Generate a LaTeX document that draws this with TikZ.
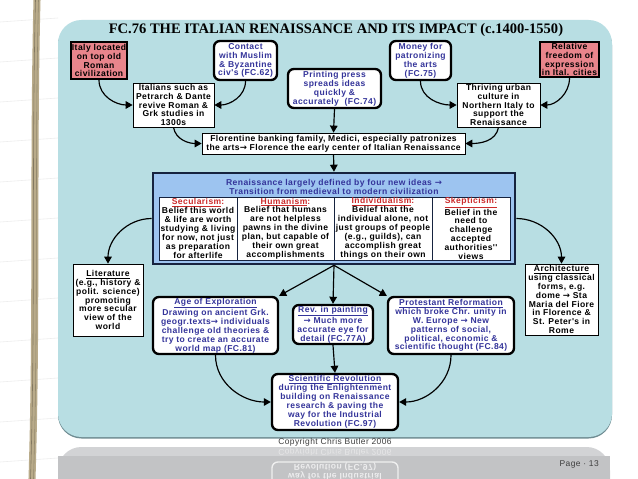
\documentclass[tikz,border=0pt]{standalone}
\usepackage{fontspec}
\setmainfont{Liberation Sans}
\newfontfamily\diafont{Liberation Sans}[LetterSpace=5]
\newfontfamily\titlefont{Liberation Serif}
\newfontfamily\symfont{DejaVu Sans}
\usetikzlibrary{arrows.meta, positioning, calc}
\definecolor{panel}{HTML}{B8DEE3}
\definecolor{panelshade}{HTML}{6F8C92}
\definecolor{origin}{HTML}{E9858C}
\definecolor{navytext}{HTML}{34349A}
\definecolor{ideasfill}{HTML}{9DC4F0}
\definecolor{ideasrule}{HTML}{16233F}
\definecolor{ideared}{HTML}{CC2B2B}
\definecolor{band}{HTML}{C2C3C5}
\definecolor{bandtop}{HTML}{D2D3D5}
\definecolor{binding}{HTML}{B9AB8A}
\definecolor{pagegrey}{HTML}{3F3F3F}
\newcommand{\rarr}{{\symfont\bfseries →}}
\tikzset{
  >={Triangle[length=6pt, width=6.5pt]},
  sz/.style 2 args={minimum width=#1*0.03cm, minimum height=#2*0.03cm},
  %
  base/.style={inner sep=0pt, align=center, text=black,
    font=\diafont\bfseries\fontsize{7.3}{7.6}\selectfont},
  plainbox/.style={base, draw=black, line width=0.6pt, fill=white},
  linkbox/.style={base, draw=black, line width=2pt, fill=white,
    rounded corners=5pt, text=navytext},
  originbox/.style={base, draw=black, line width=1.8pt, fill=origin},
  ideacell/.style={plainbox, draw=ideasrule, line width=0.5pt},
  celltitle/.style={text=ideared},
  %
  flow/.style={->, draw=black, line width=1pt},
  smallprint/.style={inner sep=0pt, text=pagegrey,
    font=\diafont\fontsize{7.2}{8}\selectfont},
}
\begin{document}
\begin{tikzpicture}[x=0.03cm, y=0.03cm]
  \useasboundingbox (0,0) rectangle (638,-479);
  \fill[white] (0,0) rectangle (638,-479);

  % --- notebook page and binding -----------------------------------------
  \foreach \y in {18,58,98,138,178,218,258,298,338,378,418,458}
    \draw[gray!14, line width=0.5pt] (0,-\y-4) -- (58,-\y);
  \draw[binding, line width=6pt] (37,0) .. controls (33,-160) and (37,-320) .. (32,-479);
  \draw[binding!70!black, line width=0.5pt] (35.5,0) .. controls (31.5,-160) and (35.5,-320) .. (30.5,-479);
  \draw[binding!80!black, line width=0.5pt] (38.5,0) .. controls (34.5,-160) and (38.5,-320) .. (33.5,-479);

  % --- panel --------------------------------------------------------------
  \fill[panelshade, rounded corners=20] (58,-21.5) rectangle (612,-438.5);
  \fill[panel, rounded corners=20] (58,-20) rectangle (612,-437);
  \node[anchor=center, inner sep=0pt, font=\titlefont\bfseries\fontsize{12.4}{14}\selectfont]
    (title) at (336,-30) {FC.76 THE ITALIAN RENAISSANCE AND ITS IMPACT (c.1400-1550)};

  % --- causes -------------------------------------------------------------
  \node[originbox, sz={56}{37}] (italy) at (99,-60.5)
    {Italy located\\on top old\\Roman\\civilization};
  \node[linkbox, sz={63}{39}] (contact) at (245.5,-60.5)
    {Contact\\with Muslim\\\& Byzantine\\civ's (FC.62)};
  \node[plainbox, sz={81}{44}] (italians) at (173.5,-105)
    {Italians such as\\Petrarch \& Dante\\revive Roman \&\\Grk studies in\\1300s};
  \node[linkbox, sz={93}{39}] (printing) at (334.5,-88.5)
    {Printing press\\spreads ideas\\quickly \&\\accurately\ \ (FC.74)};
  \node[linkbox, sz={61}{39}] (money) at (420.5,-60.5)
    {Money for\\patronizing\\the arts\\(FC.75)};
  \node[originbox, sz={59}{35}] (freedom) at (569.5,-59.5)
    {Relative\\freedom of\\expression\\in Ital. cities};
  \node[plainbox, sz={83}{44}] (thriving) at (498.5,-105)
    {Thriving urban\\culture in\\Northern Italy to\\support the\\Renaissance};
  \node[plainbox, sz={263}{21}] (medici) at (333.5,-143.5)
    {Florentine banking family, Medici, especially patronizes\\
     the arts\rarr{} Florence the early center of Italian Renaissance};

  \draw[flow] (italy.south) to[out=-90, in=180] (italians.west);
  \draw[flow] (contact.south) to[out=-90, in=0] (italians.east);
  \draw[flow] (money.south) to[out=-90, in=180] (thriving.west);
  \draw[flow] (freedom.south) to[out=-90, in=0] (thriving.east);
  \draw[flow] (italians.south) to[out=-80, in=180] (medici.west);
  \draw[flow] (thriving.south) to[out=-100, in=0] (medici.east);
  \draw[flow] (printing.south) -- (medici.north);

  % --- four new ideas -----------------------------------------------------
  \node[base, draw=ideasrule, line width=2.2pt, fill=ideasfill, sz={362}{91}]
    (ideas) at (334,-218.5) {};
  \node[base, text=navytext] (ideashead) at (334,-187)
    {Renaissance largely defined by four new ideas \rarr\\
     Transition from medieval to modern civilization};
  \node[ideacell, sz={78}{63}] (secular) at (198,-228.5)
    {{\color{ideared}\underline{Secularism}:}\\Belief this world\\\& life are worth\\studying \& living\\for now, not just\\as preparation\\for afterlife};
  \node[ideacell, sz={97}{63}] (human) at (285.5,-228.5)
    {{\color{ideared}\underline{Humanism}:}\\Belief that humans\\are not helpless\\pawns in the divine\\plan, but capable of\\their own great\\accomplishments};
  \node[ideacell, sz={98}{63}] (individual) at (383,-228.5)
    {{\color{ideared}\underline{Individualism}:}\\Belief that the\\individual alone, not\\just groups of people\\(e.g., guilds), can\\accomplish great\\things on their own};
  \node[ideacell, sz={78}{63}] (skeptic) at (471,-228.5)
    {{\color{ideared}\underline{Skepticism:}}\\Belief in the\\need to\\challenge\\accepted\\authorities''\\views};

  \draw[flow] (medici.south) -- (ideas.north);

  % --- impact -------------------------------------------------------------
  \node[plainbox, sz={70}{72}] (literature) at (108,-300)
    {\underline{Literature}\\(e.g., history \&\\polit. science)\\promoting\\more secular\\view of the\\world};
  \node[plainbox, sz={73}{71}] (architecture) at (561.5,-299.5)
    {\underline{Architecture}\\using classical\\forms, e.g.\\dome \rarr{} Sta\\Maria del Fiore\\in Florence \&\\St. Peter's in\\Rome};
  \node[linkbox, sz={125}{57}] (explore) at (215.5,-325.5)
    {\underline{Age of Exploration}\\Drawing on ancient Grk.\\geogr.texts\rarr{} individuals\\challenge old theories \&\\try to create an accurate\\world map (FC.81)};
  \node[linkbox, sz={80}{39}] (painting) at (333,-324.5)
    {\underline{Rev. in painting}\\\rarr{} Much more\\accurate eye for\\detail (FC.77A)};
  \node[linkbox, sz={126}{57}] (reform) at (451,-325.5)
    {\underline{Protestant Reformation}\\which broke Chr. unity in\\W. Europe \rarr{} New\\patterns of social,\\political, economic \&\\scientific thought (FC.84)};
  \node[linkbox, sz={126}{56}] (science) at (335,-402)
    {\underline{Scientific Revolution}\\during the Enlightenment\\building on Renaissance\\research \& paving the\\way for the Industrial\\Revolution (FC.97)};

  \draw[flow] (ideas.west) to[out=180, in=90] (literature.north);
  \draw[flow] (ideas.east) to[out=0, in=90] (architecture.north);
  \draw[flow] (ideas.south) -- (explore.north east);
  \draw[flow] (ideas.south) -- (painting.north);
  \draw[flow] (ideas.south) -- (reform.north west);
  \draw[flow] (painting.south) -- (science.north);
  \draw[flow] (explore.south) to[out=-90, in=180] (science.west);
  \draw[flow] (reform.south) to[out=-90, in=0] (science.east);

  % --- footer and reflection ----------------------------------------------
  \node[smallprint] (copyright) at (335,-442) {Copyright Chris Butler 2006};
  \fill[bandtop, rounded corners=20] (58,-479) -- (58,-447) -- (610,-447) -- (610,-479);
  \fill[band] (58,-456) rectangle (610,-479);
  \begin{scope}
    \clip (58,-447) rectangle (610,-479);
    \draw[white!75!band, line width=1.2pt, rounded corners=5pt] (272,-462) rectangle (398,-495);
    \node[smallprint, text=white!60!band, yscale=-1] (mirrorcopy) at (335,-452) {Copyright Chris Butler 2006};
    \node[base, text=white!70!band, yscale=-1] (mirrorsci) at (335,-471)
      {way for the Industrial\\Revolution (FC.97)};
  \end{scope}
  \node[smallprint, anchor=east] (pagenum) at (599,-464) {Page · 13};

\end{tikzpicture}
\end{document}
